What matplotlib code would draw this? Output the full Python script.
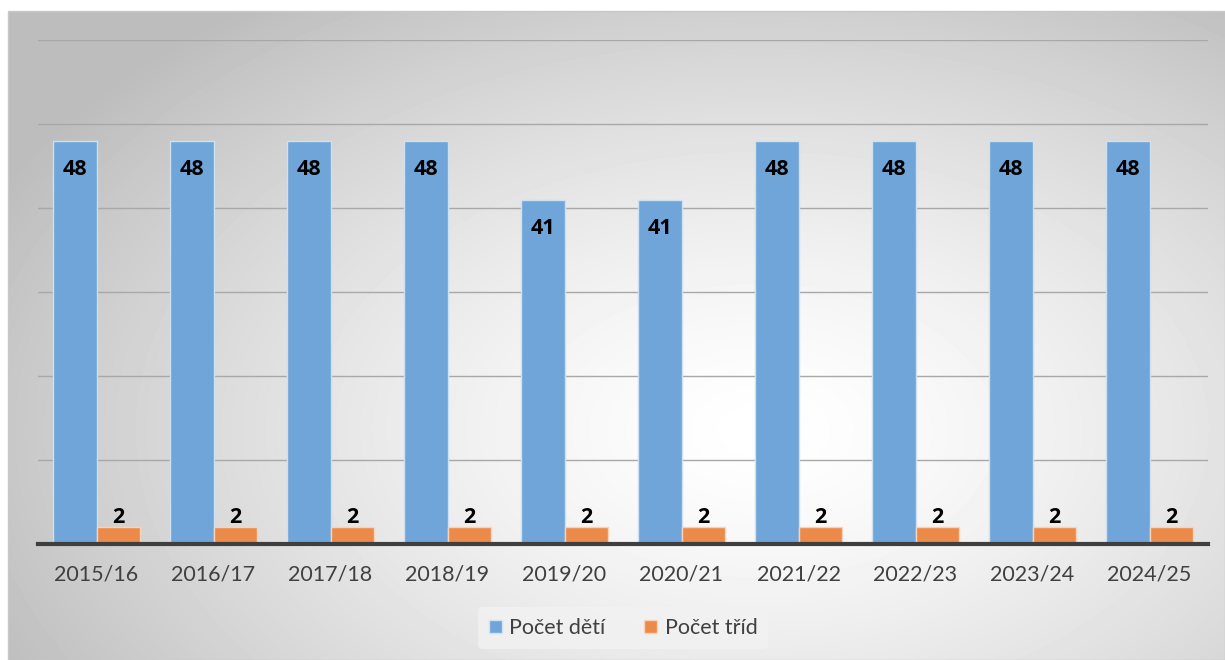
import numpy as np
import matplotlib.pyplot as plt
from matplotlib.patches import Rectangle

years = ["2015/16", "2016/17", "2017/18", "2018/19", "2019/20",
         "2020/21", "2021/22", "2022/23", "2023/24", "2024/25"]
pocet_deti = [48, 48, 48, 48, 41, 41, 48, 48, 48, 48]
pocet_trid = [2, 2, 2, 2, 2, 2, 2, 2, 2, 2]

plt.rcParams["font.family"] = ["Lato", "DejaVu Sans"]

W, H = 1225, 660
fig = plt.figure(figsize=(W / 100, H / 100), dpi=100)
fig.patch.set_facecolor("white")

# radial grey-to-white background of the chart area
bg = fig.add_axes([0, 0, 1, 1], zorder=0)
bg.set_axis_off()
yy, xx = np.mgrid[0:H, 0:W]
cx, cy = 760, 430
r = np.sqrt(((xx - cx) / 900.0) ** 2 + ((yy - cy) / 560.0) ** 2)
shade = np.clip(1.0 - 0.28 * r ** 1.4, 0.74, 1.0)
img = bg.imshow(shade, cmap="gray", vmin=0, vmax=1, extent=[0, W, H, 0],
                interpolation="bilinear", aspect="auto")
bg.set_xlim(0, W)
bg.set_ylim(H, 0)
clip = Rectangle((8, 11), W - 8, H - 11, transform=bg.transData,
                 facecolor="none", edgecolor="#c8c8c8", lw=1)
bg.add_patch(clip)
img.set_clip_path(clip)

ax = fig.add_axes([38 / W, 1 - 544 / H, (1208 - 38) / W, (544 - 40) / H], zorder=1)
ax.patch.set_alpha(0)

x = np.arange(len(years))
bw = 0.375
b1 = ax.bar(x - bw / 2, pocet_deti, bw, color="#6fa5d8", edgecolor="#cfe0f0",
            linewidth=1, label="Počet dětí", zorder=3)
b2 = ax.bar(x + bw / 2, pocet_trid, bw, color="#ec8a4a", edgecolor="#f7d3bb",
            linewidth=1, label="Počet tříd", zorder=3)

lab_font = ["Open Sans", "DejaVu Sans"]
for rect, v in zip(b1, pocet_deti):
    ax.text(rect.get_x() + rect.get_width() / 2, v - 3.1, str(v), ha="center",
            va="center_baseline", fontsize=15.5, fontweight="bold", family=lab_font,
            color="black", zorder=4)
for rect, v in zip(b2, pocet_trid):
    ax.text(rect.get_x() + rect.get_width() / 2, v + 0.45, str(v), ha="center",
            va="baseline", fontsize=15.5, fontweight="bold", family=lab_font,
            color="black", zorder=4)

ax.set_xlim(-0.5, len(years) - 0.5)
ax.set_ylim(0, 60)
ax.set_yticks(np.arange(0, 61, 10))
ax.yaxis.grid(True, color="#a8a8a8", linewidth=1, zorder=1)
ax.tick_params(axis="y", left=False, labelleft=False)
ax.tick_params(axis="x", length=0, pad=15, labelsize=15.5, labelcolor="#404040")
ax.set_xticks(x)
ax.set_xticklabels(years)
for s in ["top", "right", "left"]:
    ax.spines[s].set_visible(False)
ax.spines["bottom"].set_color("#3f3f3f")
ax.spines["bottom"].set_linewidth(3)
ax.spines["bottom"].set_zorder(5)

leg = fig.legend(handles=[b1, b2], loc="center", bbox_to_anchor=(623 / W, 1 - 628 / H),
                 ncol=2, frameon=True, fontsize=15.5, handlelength=0.6, handleheight=0.6,
                 handletextpad=0.35, columnspacing=1.8, borderpad=0.5)
leg.get_frame().set_facecolor("#f2f2f2")
leg.get_frame().set_edgecolor("none")
leg.get_frame().set_alpha(0.8)
for t in leg.get_texts():
    t.set_color("#404040")

fig.savefig("out.png", dpi=100)
